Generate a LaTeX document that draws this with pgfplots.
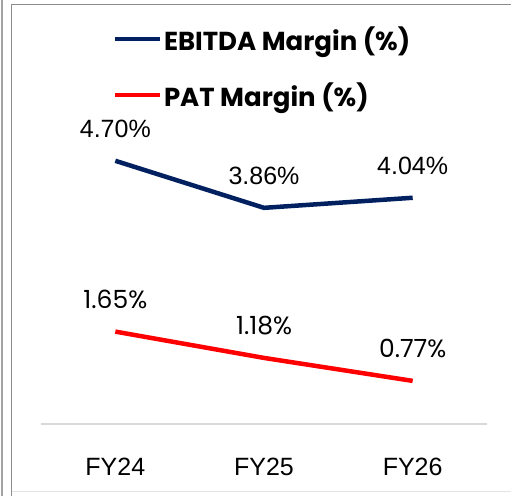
\documentclass[border=0pt]{standalone}
\usepackage{pgfplots}
\pgfplotsset{compat=1.18}
\usepackage{fontspec}
\setmainfont{Liberation Sans}
\newfontfamily\pop{Poppins}
\definecolor{ebitda}{HTML}{002060}
\definecolor{pat}{HTML}{FF0000}
\definecolor{frame}{HTML}{8C8C8C}
\definecolor{baseline}{HTML}{D9D9D9}
\begin{document}
\begin{tikzpicture}[x=1pt,y=1pt]
\useasboundingbox (0,0) rectangle (511,496);
\fill[white] (0,0) rectangle (511,496);
% frame
\draw[color=frame!80, line width=2pt] (1.5,0) -- (1.5,496);
\draw[color=frame, line width=1.5pt] (11.5,0) -- (11.5,491.5) -- (511,491.5);
\draw[color=baseline!70, line width=1pt] (11.5,5) -- (511,5);
\begin{axis}[
  at={(41pt,72pt)}, anchor=south west,
  scale only axis, width=446pt, height=336pt,
  xmin=-0.5, xmax=2.5, ymin=0, ymax=6,
  axis y line=none,
  axis x line*=bottom,
  x axis line style={color=baseline, line width=1.5pt, -},
  xtick={0,1,2}, xticklabels={FY24,FY25,FY26},
  major tick length=0pt,
  xticklabel style={font=\fontsize{25}{30}\selectfont, anchor=center, yshift=-43pt},
  clip=false,
  point meta=explicit symbolic,
  nodes near coords,
  every node near coord/.append style={anchor=center, yshift=32pt, text=black},
  legend style={at={(axis description cs:0.161,1.19)}, anchor=north west,
    draw=none, fill=none, inner sep=0pt, row sep=27pt,
    font=\pop\bfseries\fontsize{26}{31}\selectfont, legend cell align=left,
    /tikz/every even column/.append style={column sep=4pt}},
  legend image code/.code={\draw[#1, line width=4pt] (0pt,0pt) -- (45pt,0pt);},
]
\addplot[color=ebitda, line width=4.5pt, mark=none,
  every node near coord/.append style={font=\fontsize{25}{30}\selectfont}]
  coordinates {(0,4.70) [4.70\%] (1,3.86) [3.86\%] (2,4.04) [4.04\%]};
\addlegendentry{EBITDA Margin (\%)}
\addplot[color=pat, line width=4.5pt, mark=none,
  every node near coord/.append style={font=\pop\fontsize{25}{30}\selectfont}]
  coordinates {(0,1.65) [1.65\%] (1,1.18) [1.18\%] (2,0.77) [0.77\%]};
\addlegendentry{PAT Margin (\%)}
\end{axis}
\end{tikzpicture}
\end{document}
